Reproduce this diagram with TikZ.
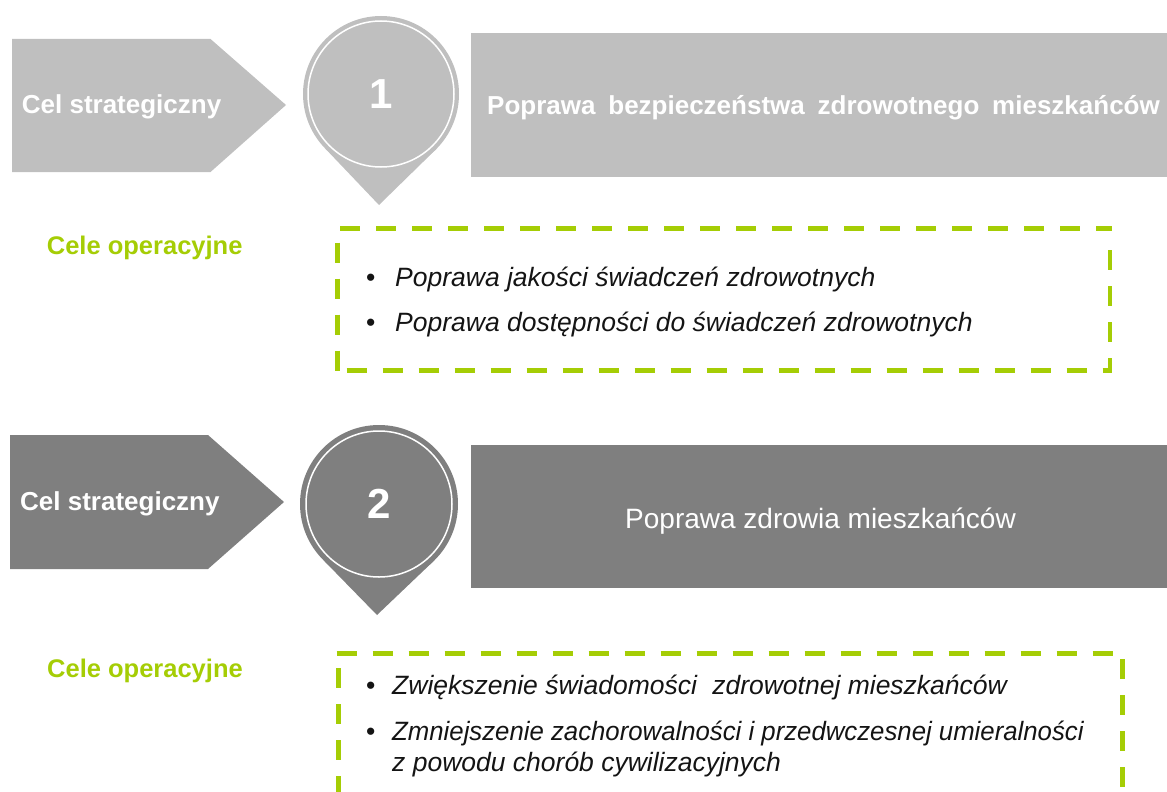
\documentclass[tikz,border=0pt]{standalone}
\usepackage{fontspec}
\usepackage{graphicx}
\setmainfont{Liberation Sans}
\definecolor{lgray}{RGB}{191,191,191}
\definecolor{dgray}{RGB}{127,127,127}
\definecolor{lime}{RGB}{165,205,5}
\definecolor{itemcol}{RGB}{20,20,20}
\begin{document}
\begin{tikzpicture}[x=1pt,y=-1pt,
  celtext/.style={font=\fontsize{26}{30}\selectfont\bfseries, text=white, inner sep=0pt, anchor=base west},
  headtext/.style={font=\fontsize{26}{30}\selectfont\bfseries, text=white, inner sep=0pt, anchor=base west},
  headtextreg/.style={font=\fontsize{28}{32}\selectfont, text=white, inner sep=0pt, anchor=base west},
  opertext/.style={font=\fontsize{25.5}{30}\selectfont\bfseries, text=lime, inner sep=0pt, anchor=base west},
  itemtext/.style={font=\fontsize{26.5}{30}\selectfont\itshape, text=itemcol, inner sep=0pt, anchor=base west},
  pinnode/.style={circle, inner sep=0pt, text=white, font=\fontsize{42}{46}\selectfont\bfseries},
  ring/.style={draw=white, line width=1.5pt},
  dashline/.style={draw=lime, line width=4.5pt, dash pattern=on 20pt off 16pt}
]
\useasboundingbox (0,0) rectangle (1167,792);

% ---------- row 1 ----------
\fill[lgray] (12,39) -- (210.5,39) -- (286,105) -- (210.5,172) -- (12,172) -- cycle;
\node[celtext] (cs1) at (21.7,113.3) {Cel strategiczny};

\fill[lgray] (379,205) -- (325.5,148.8) -- (381,94) -- (436.5,148.8) -- cycle;
\node[pinnode, fill=lgray, minimum size=156pt] (pin1) at (381,94) {1};
\draw[ring] (pin1.center) circle[radius=73];

\fill[lgray] (471,33) rectangle (1167,177);
\node[headtext] (t1) at (487,114) {\spaceskip=12.8pt Poprawa bezpieczeństwa zdrowotnego mieszkańców};

\node[opertext] (co1) at (46.7,254.3) {Cele operacyjne};

\draw[dashline] (340,228.3) -- (1112,228.3);
\draw[dashline] (1110,250) -- (1110,371);
\draw[dashline] (346.7,370.7) -- (1112,370.7);
\draw[dashline] (337.7,242.7) -- (337.7,372.7);

\node[itemtext] (i11) at (366,286) {\makebox[29pt][l]{\upshape •}Poprawa jakości świadczeń zdrowotnych};
\node[itemtext] (i12) at (366,331) {\makebox[29pt][l]{\upshape •}Poprawa dostępności do świadczeń zdrowotnych};

% ---------- row 2 ----------
\fill[dgray] (10,435) -- (208,435) -- (284,502) -- (208,569) -- (10,569) -- cycle;
\node[celtext] (cs2) at (20,510.7) {Cel strategiczny};

\fill[dgray] (377,615) -- (323.5,560.2) -- (379,504) -- (434.5,560.2) -- cycle;
\node[pinnode, fill=dgray, minimum size=158pt] (pin2) at (379,504) {2};
\draw[ring] (pin2.center) circle[radius=73];

\fill[dgray] (471,445) rectangle (1167,588);
\node[headtextreg] (t2) at (625,528) {Poprawa zdrowia mieszkańców};

\node[opertext] (co2) at (47,677) {Cele operacyjne};

\draw[dashline] (336.7,653.3) -- (1113,653.3);
\draw[dashline] (338.3,668) -- (338.3,800);
\draw[dashline] (1122.7,659) -- (1122.7,800);

\node[itemtext] (i21) at (366,694) {\makebox[26pt][l]{\upshape •}Zwiększenie świadomości\hspace{0.3em} zdrowotnej mieszkańców};
\node[itemtext] (i22) at (366,740) {\makebox[26pt][l]{\upshape •}\scalebox{0.972}[1]{Zmniejszenie zachorowalności i przedwczesnej umieralności}};
\node[itemtext] (i23) at (392,771) {z powodu chorób cywilizacyjnych};
\end{tikzpicture}
\end{document}
